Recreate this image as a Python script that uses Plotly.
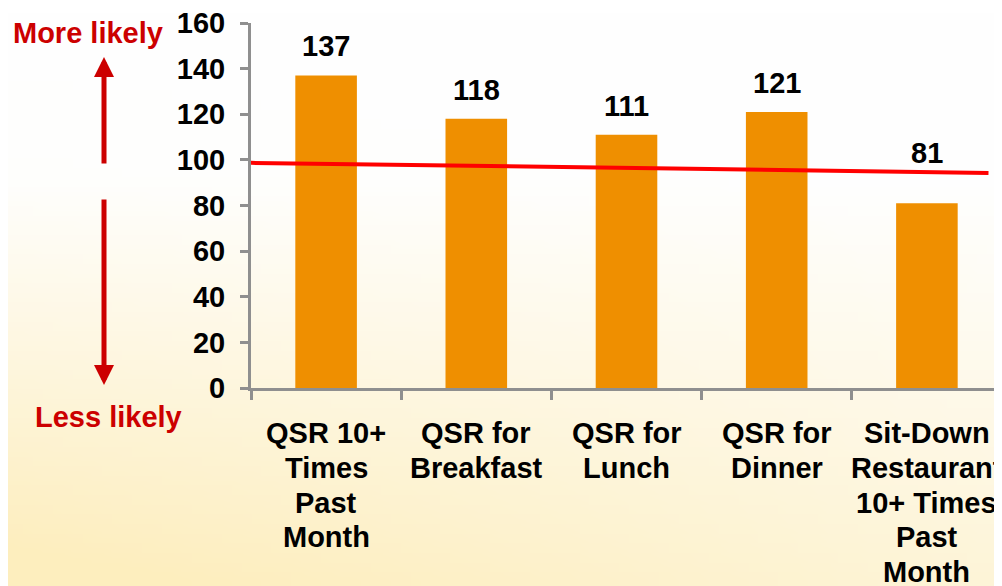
import plotly.graph_objects as go
import numpy as np
import zlib
import struct
import base64

# data
categories = [
    "QSR 10+<br>Times<br>Past<br>Month",
    "QSR for<br>Breakfast",
    "QSR for<br>Lunch",
    "QSR for<br>Dinner",
    "Sit-Down<br>Restaurant<br>10+ Times<br>Past<br>Month",
]
values = [137, 118, 111, 121, 81]
ref_line_x = [-0.5, 4.41]
ref_line_y = [98.7, 94.3]
y_ticks = [0, 20, 40, 60, 80, 100, 120, 140, 160]

# label offsets above the bars (last one sits above the red line)
label_shift = [11, 11, 11, 11, 32]

# page has an 8px body margin, so the figure is sized to fill the rest
OFF = 8
W, H = 1002 - OFF, 586 - OFF
ML, MR, MT, MB = 251 - OFF, 0, 23 - OFF, 198
PW, PH = W - ML - MR, H - MT - MB

FONT = "Liberation Sans, Arial, sans-serif"
GRAY = "#8f8f8f"
RED = "#cc0000"
FS = 29


def gradient_png():
    h, w = 60, 100
    yy, xx = np.mgrid[0:h, 0:w]
    fy = yy / (h - 1)
    fx = xx / (w - 1)
    t = np.clip((fy - 0.3) / 0.7, 0, 1) * (0.95 - 0.35 * fx)
    t = np.clip(t + 0.12 * (1 - fx) * fy, 0, 1)
    white = np.array([255, 255, 255], float)
    cream = np.array([253, 238, 190], float)
    img = (white * (1 - t[..., None]) + cream * t[..., None]).astype(np.uint8)
    raw = b"".join(b"\x00" + row.tobytes() for row in img)

    def chunk(tag, data):
        return (struct.pack(">I", len(data)) + tag + data
                + struct.pack(">I", zlib.crc32(tag + data) & 0xffffffff))

    png = (b"\x89PNG\r\n\x1a\n"
           + chunk(b"IHDR", struct.pack(">IIBBBBB", w, h, 8, 2, 0, 0, 0))
           + chunk(b"IDAT", zlib.compress(raw))
           + chunk(b"IEND", b""))
    return "data:image/png;base64," + base64.b64encode(png).decode()


# page pixel -> paper fraction
def px_x(p):
    return (p - OFF - ML) / PW


def px_y(p):
    return (OFF + MT + PH - p) / PH


xs = list(range(len(categories)))
fig = go.Figure()

fig.add_trace(go.Bar(
    x=xs, y=values, width=0.41,
    marker=dict(color="#ef8f00", line=dict(width=0)),
    hoverinfo="skip",
))

fig.add_trace(go.Scatter(
    x=ref_line_x, y=ref_line_y, mode="lines",
    line=dict(color="#ff0000", width=4),
    hoverinfo="skip",
))

annotations = []
for x, v, s in zip(xs, values, label_shift):
    annotations.append(dict(
        x=x, y=v, text=str(v), showarrow=False, yanchor="bottom", yshift=s,
        xanchor="center",
        font=dict(family=FONT, size=FS, color="black", weight="bold"),
    ))

# category labels, one line each so the spacing matches
for x, cat in zip(xs, categories):
    for k, line in enumerate(cat.split("<br>")):
        annotations.append(dict(
            x=x, xref="x", y=0, yref="paper", text=line, showarrow=False,
            xanchor="center", yanchor="middle", yshift=-(45 + 34.8 * k),
            font=dict(family=FONT, size=FS, color="black", weight="bold"),
        ))

annotations += [
    dict(xref="paper", yref="paper", x=px_x(88), y=px_y(33), text="More likely",
         xanchor="center", yanchor="middle", showarrow=False,
         font=dict(family=FONT, size=FS, color=RED, weight="bold")),
    dict(xref="paper", yref="paper", x=px_x(108), y=px_y(417), text="Less likely",
         xanchor="center", yanchor="middle", showarrow=False,
         font=dict(family=FONT, size=FS, color=RED, weight="bold")),
    dict(xref="paper", yref="paper", x=px_x(104), y=px_y(57), text="",
         showarrow=True, ax=0, ay=108, arrowhead=2, arrowsize=0.8, arrowwidth=5,
         arrowcolor=RED),
    dict(xref="paper", yref="paper", x=px_x(104), y=px_y(385), text="",
         showarrow=True, ax=0, ay=-187, arrowhead=2, arrowsize=0.8, arrowwidth=5,
         arrowcolor=RED),
]

boundaries = [i - 0.5 for i in range(len(categories) + 1)]

fig.update_layout(
    width=W, height=H,
    margin=dict(l=ML, r=MR, t=MT, b=MB, pad=0),
    paper_bgcolor="white",
    plot_bgcolor="rgba(0,0,0,0)",
    showlegend=False,
    annotations=annotations,
    images=[dict(
        source=gradient_png(), xref="paper", yref="paper",
        x=-ML / PW, y=1 + MT / PH, sizex=W / PW, sizey=H / PH,
        sizing="stretch", layer="below", xanchor="left", yanchor="top",
    )],
    xaxis=dict(
        range=[-0.5, 4.5], tickvals=xs, showticklabels=False, ticks="",
        showgrid=False, zeroline=False, showline=True, linecolor=GRAY, linewidth=3,
        minor=dict(tickvals=boundaries, ticks="outside", ticklen=9, tickwidth=3,
                   tickcolor=GRAY, showgrid=False),
    ),
    yaxis=dict(
        range=[0, 160], tickvals=y_ticks, ticks="outside", ticklen=8, tickwidth=3,
        tickcolor=GRAY, showgrid=False, zeroline=False, showline=True,
        linecolor=GRAY, linewidth=3,
        tickfont=dict(family=FONT, size=FS, color="black", weight="bold"),
        ticklabelstandoff=9, ticklabeloverflow="allow",
    ),
)

fig.write_html("out.html")
